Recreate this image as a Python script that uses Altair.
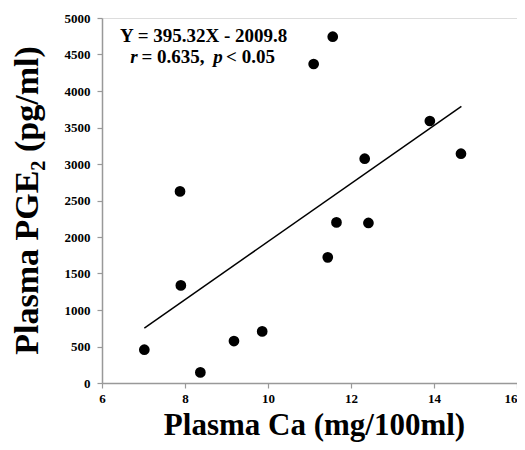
import altair as alt
import pandas as pd

# Scatter data
ca = [7.02, 7.88, 7.90, 8.37, 9.18, 9.86, 11.10, 11.56, 11.44, 11.65, 12.33, 12.42, 13.90, 14.65]
pge2 = [456, 2625, 1337, 145, 575, 707, 4370, 4744, 1721, 2200, 3073, 2192, 3589, 3141]

# Regression line end points (as drawn)
fit_x = [7.02, 14.66]
fit_y = [753, 3789]

# Axis ticks
x_ticks = [6, 8, 10, 12, 14, 16]
y_ticks = [0, 500, 1000, 1500, 2000, 2500, 3000, 3500, 4000, 4500, 5000]

# Annotation pieces
ann_text = ["Y = 395.32X - 2009.8", "r", "= 0.635,", "p", "< 0.05"]
ann_x = [8.45, 6.68, 6.95, 8.68, 8.99]
ann_y = [4675, 4388, 4388, 4388, 4388]
ann_kind = ["center", "italic", "normal", "italic", "normal"]

FONT = "Liberation Serif"

pts = pd.DataFrame({"ca": ca, "pge2": pge2})
fit = pd.DataFrame({"ca": fit_x, "pge2": fit_y})
ann = pd.DataFrame({"text": ann_text, "ca": ann_x, "pge2": ann_y, "kind": ann_kind})

xscale = alt.Scale(domain=[6, 16], nice=False, zero=False)
yscale = alt.Scale(domain=[0, 5000], nice=False)

xaxis = alt.Axis(
    values=x_ticks, title="Plasma Ca (mg/100ml)", grid=False, format="d",
    titleFontSize=31, titleFont=FONT, titleFontWeight="bold", titleColor="black",
    titleBaseline="alphabetic", titleY=51, titleX=212,
    labelFont=FONT, labelFontSize=13, labelFontWeight="bold", labelColor="black",
    labelPadding=4, tickSize=5, tickColor="#999999", domainColor="#999999",
    domainWidth=1.5, tickWidth=1.2, labelOverlap=False, labelFlush=False,
    labelAlign=alt.expr("datum.value == 16 ? 'right' : 'center'"),
    labelBound=False,
)
yaxis = alt.Axis(
    values=y_ticks, tickCount=11, title="Plasma PGE₂ (pg/ml)", grid=False, format="d",
    titleFontSize=34, titleFont=FONT, titleFontWeight="bold", titleColor="black",
    titleBaseline="alphabetic", titleX=-65, titleY=182,
    labelFont=FONT, labelFontSize=13, labelFontWeight="bold", labelColor="black",
    labelPadding=7, tickSize=5, tickColor="#999999", domainColor="#999999",
    domainWidth=1.5, tickWidth=1.2, labelOverlap=False, labelFlush=False,
)

X = alt.X("ca:Q", scale=xscale, axis=xaxis)
Y = alt.Y("pge2:Q", scale=yscale, axis=yaxis)

points = alt.Chart(pts).mark_circle(size=115, color="black", opacity=1).encode(x=X, y=Y)

line = alt.Chart(fit).mark_line(color="black", strokeWidth=1.5).encode(x=X, y=Y)

def ann_layer(kind, align, style):
    return alt.Chart(ann).transform_filter(alt.datum.kind == kind).mark_text(
        font=FONT, fontSize=19, fontWeight="bold", fontStyle=style,
        align=align, baseline="alphabetic", color="black",
    ).encode(x=X, y=Y, text="text:N")

chart = alt.layer(
    line, points,
    ann_layer("center", "center", "normal"),
    ann_layer("normal", "left", "normal"),
    ann_layer("italic", "left", "italic"),
).properties(
    width=415, height=365,
    autosize=alt.AutoSizeParams(type="none"),
    padding={"left": 94, "top": 10, "right": 0, "bottom": 59},
).configure_view(stroke=None).configure_axis(
    labelFont=FONT, titleFont=FONT
).configure(background="white", font=FONT)

chart.save("out.html", embed_options={"renderer": "svg", "actions": False})
